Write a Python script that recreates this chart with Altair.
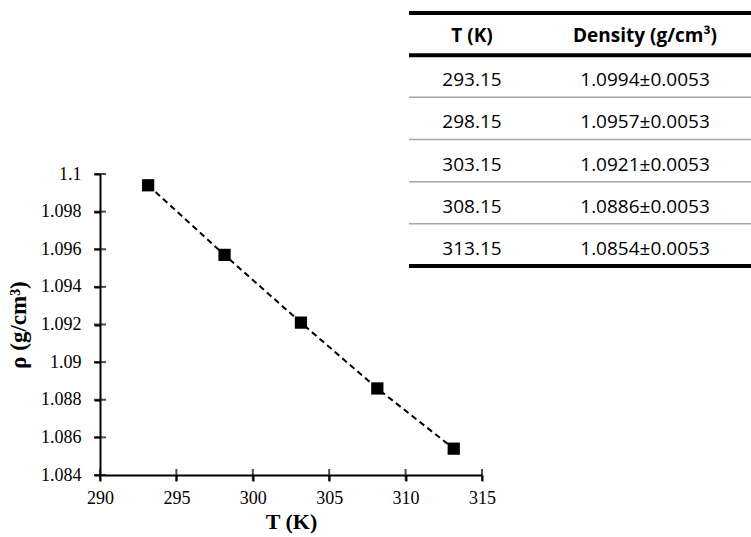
import altair as alt
import pandas as pd

# ---- data ----
temps = [293.15, 298.15, 303.15, 308.15, 313.15]
density = [1.0994, 1.0957, 1.0921, 1.0886, 1.0854]
density_txt = ["1.0994±0.0053", "1.0957±0.0053", "1.0921±0.0053",
               "1.0886±0.0053", "1.0854±0.0053"]
temp_txt = ["293.15", "298.15", "303.15", "308.15", "313.15"]
x_ticks = [290, 295, 300, 305, 310, 315]
y_ticks = [1.084, 1.086, 1.088, 1.09, 1.092, 1.094, 1.096, 1.098, 1.1]
headers = ["T (K)", "Density (g/cm³)"]

SERIF = "Liberation Serif"
SANS = "Open Sans"

pts = pd.DataFrame({"T": temps, "rho": density})

xs = alt.Scale(domain=[290, 315], nice=False, zero=False)
ys = alt.Scale(domain=[1.084, 1.1], nice=False, zero=False)

xaxis = alt.Axis(values=x_ticks, title="T (K)", labelFont=SERIF, labelFontSize=18,
                 labelColor="black", titleFont=SERIF, titleFontSize=22,
                 titleFontWeight="bold", titleColor="black", domainColor="black",
                 domainWidth=2, tickColor="black", tickWidth=2, tickSize=6,
                 labelPadding=8, titlePadding=4, grid=False, labelFlush=False,
                 labelOverlap=False)
yaxis = alt.Axis(values=y_ticks, title="ρ (g/cm³)", labelFont=SERIF, labelFontSize=18,
                 labelColor="black", titleFont=SERIF, titleFontSize=23,
                 titleFontWeight="bold", titleColor="black", domainColor="black",
                 domainWidth=2, tickColor="black", tickWidth=2, tickSize=6,
                 labelPadding=13, titlePadding=10, grid=False, labelFlush=False,
                 labelOverlap=False, labelExpr="format(datum.value, '~g')")

line = alt.Chart(pts).mark_line(color="black", strokeWidth=2, strokeDash=[6, 4]).encode(
    x=alt.X("T:Q", scale=xs, axis=xaxis),
    y=alt.Y("rho:Q", scale=ys, axis=yaxis),
)
squares = alt.Chart(pts).mark_point(shape="square", filled=True, color="black",
                                    size=150, opacity=1).encode(
    x=alt.X("T:Q", scale=xs, axis=None),
    y=alt.Y("rho:Q", scale=ys, axis=None),
)
yt = alt.Chart(pd.DataFrame({"v": y_ticks})).mark_tick(
    orient="horizontal", color="black", size=12, thickness=2).encode(
    x=alt.datum(290, scale=xs, axis=None), y=alt.Y("v:Q", scale=ys, axis=None))
xt = alt.Chart(pd.DataFrame({"v": x_ticks})).mark_tick(
    orient="vertical", color="black", size=12, thickness=2).encode(
    x=alt.X("v:Q", scale=xs, axis=None), y=alt.datum(1.084, scale=ys, axis=None))

plot = alt.layer(line, yt, xt, squares).resolve_axis(x="independent", y="independent")

# ---- table ----
rows = []
for i, (t, d) in enumerate(zip(temp_txt, density_txt)):
    rows.append({"col": headers[0], "row": i + 1.5, "txt": t})
    rows.append({"col": headers[1], "row": i + 1.5, "txt": d})
body = pd.DataFrame(rows)
head = pd.DataFrame({"col": headers, "row": [0.5, 0.5], "txt": headers})

tx = alt.Scale(type="point", domain=headers, range=[372, 545], padding=0)
ty = alt.Scale(domain=[0, 6], range=[-161, 92], nice=False, zero=False)

body_txt = alt.Chart(body).mark_text(font=SANS, fontSize=19, color="black",
                                     baseline="middle", dy=4).encode(
    x=alt.X("col:N", scale=tx, axis=None),
    y=alt.Y("row:Q", scale=ty, axis=None),
    text="txt:N")
head_txt = alt.Chart(head).mark_text(font=SANS, fontSize=19, fontWeight="bold",
                                     color="black", baseline="middle", dy=2).encode(
    x=alt.X("col:N", scale=tx, axis=None),
    y=alt.Y("row:Q", scale=ty, axis=None),
    text="txt:N")

thick = pd.DataFrame({"row": [0, 1, 6]})
thin = pd.DataFrame({"row": [2, 3, 4, 5]})
thick_rules = alt.Chart(thick).mark_rule(color="black", strokeWidth=4).encode(
    x=alt.value(309), x2=alt.value(651),
    y=alt.Y("row:Q", scale=ty, axis=None))
thin_rules = alt.Chart(thin).mark_rule(color="#a6a6a6", strokeWidth=1.5).encode(
    x=alt.value(309), x2=alt.value(651),
    y=alt.Y("row:Q", scale=ty, axis=None))

table = alt.layer(thin_rules, thick_rules, body_txt, head_txt)

chart = alt.layer(plot, table).resolve_scale(x="independent", y="independent").properties(
    width=382, height=301,
    autosize=alt.AutoSizeParams(type="none"),
    padding={"left": 100, "top": 174, "right": 269, "bottom": 62},
    background="white",
).configure_view(stroke=None)

chart.save("out.html", embed_options={"renderer": "svg", "actions": False})
